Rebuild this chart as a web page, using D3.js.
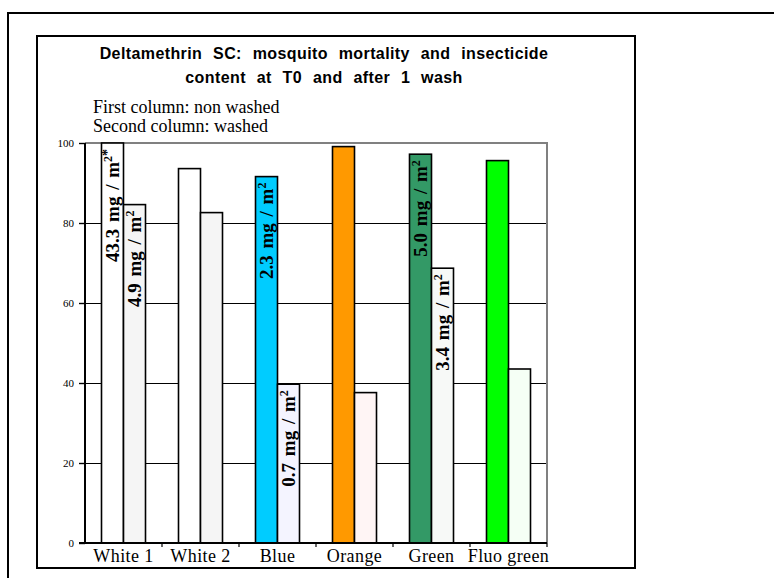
<!DOCTYPE html>
<html>
<head>
<meta charset="utf-8">
<script src="https://cdn.jsdelivr.net/npm/d3@7"></script>
<style>
  html, body { margin: 0; padding: 0; background: #fff; }
  svg { display: block; }
</style>
</head>
<body>
<svg id="chart" width="774" height="578"></svg>
<script>
var categories = ['White 1', 'White 2', 'Blue', 'Orange', 'Green', 'Fluo green'];
var series = ['nonWashed', 'washed'];

// mortality (%)
var nonWashed = [100, 93.6, 91.6, 99.1, 97.2, 95.6];
var washed = [84.6, 82.6, 39.7, 37.6, 68.7, 43.5];

// insecticide content (mg / m2), null = not shown
var doseNonWashed = [43.3, null, 2.3, null, 5.0, null];
var doseWashed = [4.9, null, 0.7, null, 3.4, null];

var colorsNonWashed = ['#ffffff', '#ffffff', '#00ccff', '#ff9900', '#339966', '#00ff00'];
var colorsWashed = ['#f5f5f5', '#f5f5f5', '#f4f4ff', '#fff5f5', '#f7f9f7', '#f5fff5'];

var yTicks = [0, 20, 40, 60, 80, 100];

(function() {
    var svg = d3.select('#chart');

    // outer and inner frames
    svg.append('rect')
        .attr('x', 8).attr('y', 13)
        .attr('width', 800).attr('height', 600)
        .attr('fill', 'none').attr('stroke', '#000').attr('stroke-width', 2);

    svg.append('rect')
        .attr('x', 37).attr('y', 36)
        .attr('width', 598).attr('height', 532)
        .attr('fill', '#fff').attr('stroke', '#000').attr('stroke-width', 2);

    // title
    var title = svg.append('text')
        .attr('text-anchor', 'middle')
        .attr('font-family', 'Arial, "Liberation Sans", sans-serif')
        .attr('font-weight', 'bold')
        .attr('font-size', 16)
        .attr('letter-spacing', 0.4)
        .attr('word-spacing', 6);
    title.append('tspan').attr('x', 324).attr('y', 59)
        .text('Deltamethrin SC: mosquito mortality and insecticide');
    title.append('tspan').attr('x', 324).attr('y', 83)
        .text('content at T0 and after 1 wash');

    var sub = svg.append('text')
        .attr('font-family', '"Times New Roman", "Liberation Serif", serif')
        .attr('font-size', 18);
    sub.append('tspan').attr('x', 93).attr('y', 113).text('First column: non washed');
    sub.append('tspan').attr('x', 93).attr('y', 132).text('Second column: washed');

    // plot area
    var left = 85, right = 547, plotTop = 143, bottom = 543;

    var x = d3.scaleBand().domain(categories).range([left, right]).paddingInner(0).paddingOuter(0);
    var x1 = d3.scaleBand().domain(series).range([0, x.bandwidth()]).paddingInner(0).paddingOuter(0.75);
    var y = d3.scaleLinear().domain([0, 100]).range([bottom, plotTop]);

    // gridlines
    svg.append('g').selectAll('line')
        .data(yTicks.filter(function(t) { return t > 0 && t < 100; }))
        .join('line')
        .attr('x1', left).attr('x2', right)
        .attr('y1', function(d) { return y(d) + 0.5; })
        .attr('y2', function(d) { return y(d) + 0.5; })
        .attr('stroke', '#000').attr('stroke-width', 1.4)
        .attr('shape-rendering', 'crispEdges');

    // gray plot border (top, right)
    svg.append('path')
        .attr('d', 'M' + left + ',' + y(100) + 'H' + right + 'V' + bottom)
        .attr('fill', 'none').attr('stroke', '#808080').attr('stroke-width', 2);

    var rows = categories.map(function(c, i) {
        return [
            {cat: c, key: 'nonWashed', value: nonWashed[i], color: colorsNonWashed[i], dose: doseNonWashed[i], star: i === 0},
            {cat: c, key: 'washed', value: washed[i], color: colorsWashed[i], dose: doseWashed[i], star: false}
        ];
    });
    var bars = d3.merge(rows);

    svg.append('g').selectAll('rect')
        .data(bars)
        .join('rect')
        .attr('x', function(d) { return x(d.cat) + x1(d.key); })
        .attr('y', function(d) { return y(d.value); })
        .attr('width', x1.bandwidth())
        .attr('height', function(d) { return y(0) - y(d.value); })
        .attr('fill', function(d) { return d.color; })
        .attr('stroke', '#000').attr('stroke-width', 1.6);

    // dose labels inside bars
    var labels = svg.append('g').selectAll('text')
        .data(bars.filter(function(d) { return d.dose !== null; }))
        .join('text')
        .attr('transform', function(d) {
            var cx = x(d.cat) + x1(d.key) + x1.bandwidth() / 2;
            return 'translate(' + cx + ',' + (y(d.value) + 6) + ') rotate(-90)';
        })
        .attr('text-anchor', 'end')
        .attr('dy', '0.35em')
        .attr('font-family', '"Times New Roman", "Liberation Serif", serif')
        .attr('font-weight', 'bold')
        .attr('font-size', 19)
        .attr('word-spacing', 2);

    labels.append('tspan').text(function(d) { return d.dose.toFixed(1) + ' mg / m'; });
    labels.append('tspan').attr('font-size', 12).attr('dy', '-0.6em').text('2');
    labels.append('tspan').attr('font-size', 14).text(function(d) { return d.star ? '*' : ''; });

    // y axis
    var yAxis = svg.append('g')
        .attr('transform', 'translate(' + left + ',0)')
        .call(d3.axisLeft(y).tickValues(yTicks).tickSize(6).tickPadding(5));
    yAxis.select('.domain').attr('stroke', '#000').attr('stroke-width', 2).attr('d', 'M0,' + plotTop + 'V' + bottom);
    yAxis.selectAll('.tick line').attr('stroke', '#000').attr('stroke-width', 1.4);
    yAxis.selectAll('.tick text')
        .attr('font-family', '"Times New Roman", "Liberation Serif", serif')
        .attr('font-size', 11).attr('fill', '#000');

    // x axis
    var xAxis = svg.append('g')
        .attr('transform', 'translate(0,' + bottom + ')')
        .call(d3.axisBottom(x).tickSize(0).tickPadding(6));
    xAxis.select('.domain').attr('stroke', '#000').attr('stroke-width', 2).attr('d', 'M' + (left - 6) + ',0H' + right);
    xAxis.selectAll('.tick text')
        .attr('font-family', '"Times New Roman", "Liberation Serif", serif')
        .attr('font-size', 18).attr('letter-spacing', 0.4).attr('fill', '#000');

    // tick marks at category boundaries
    svg.append('g').selectAll('line')
        .data(categories.slice(1).concat(['__end']))
        .join('line')
        .attr('x1', function(d) { return d === '__end' ? right : x(d); })
        .attr('x2', function(d) { return d === '__end' ? right : x(d); })
        .attr('y1', bottom).attr('y2', bottom + 4)
        .attr('stroke', '#000').attr('stroke-width', 1.2);
})();
</script>
</body>
</html>
